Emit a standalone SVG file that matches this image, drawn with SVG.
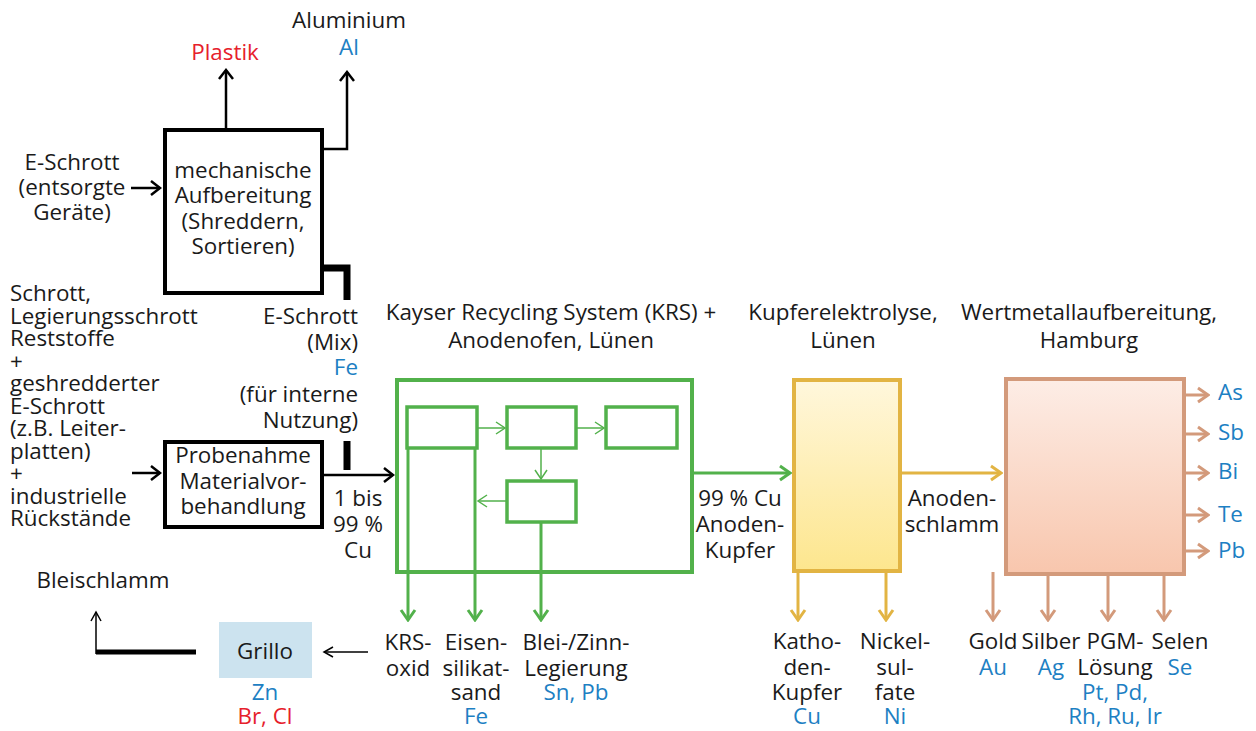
<svg xmlns="http://www.w3.org/2000/svg" width="1256" height="731" viewBox="0 0 1256 731">
<defs>
<style>
text{font-family:"Open Sans","Liberation Sans",sans-serif;font-size:22.4px;fill:#1a1a1a}
.c{text-anchor:middle}
.r{text-anchor:end}
.b{fill:#1d80c3}
.red{fill:#e6202b}
.box{fill:#fff;stroke:#000;stroke-width:4}
.blk{fill:none;stroke:#000;stroke-width:2.5}
.thick{fill:none;stroke:#000;stroke-width:7}
.grn{fill:none;stroke:#52b14b;stroke-width:3}
.grnin{fill:#fff;stroke:#52b14b;stroke-width:3.5}
.grnt{fill:none;stroke:#52b14b;stroke-width:1.5}
.yel{fill:none;stroke:#e2b443;stroke-width:3}
.brn{fill:none;stroke:#d39a7b;stroke-width:3}
</style>
<marker id="ab" viewBox="-12 -9 14 18" refX="0" refY="0" markerWidth="14" markerHeight="18" markerUnits="userSpaceOnUse" orient="auto"><path d="M-9,-7 L0,0 L-9,7" fill="none" stroke="#000" stroke-width="2.5"/></marker>
<marker id="abt" viewBox="-12 -9 14 18" refX="0" refY="0" markerWidth="14" markerHeight="18" markerUnits="userSpaceOnUse" orient="auto"><path d="M-9,-5 L0,0 L-9,5" fill="none" stroke="#000" stroke-width="1.5"/></marker>
<marker id="ag" viewBox="-13 -9 15 18" refX="0" refY="0" markerWidth="15" markerHeight="18" markerUnits="userSpaceOnUse" orient="auto"><path d="M-10,-7 L0,0 L-10,7" fill="none" stroke="#52b14b" stroke-width="3"/></marker>
<marker id="agt" viewBox="-12 -9 14 18" refX="0" refY="0" markerWidth="14" markerHeight="18" markerUnits="userSpaceOnUse" orient="auto"><path d="M-9,-6 L0,0 L-9,6" fill="none" stroke="#52b14b" stroke-width="1.5"/></marker>
<marker id="ay" viewBox="-13 -9 15 18" refX="0" refY="0" markerWidth="15" markerHeight="18" markerUnits="userSpaceOnUse" orient="auto"><path d="M-10,-7 L0,0 L-10,7" fill="none" stroke="#e2b443" stroke-width="3"/></marker>
<marker id="abr" viewBox="-13 -9 15 18" refX="0" refY="0" markerWidth="15" markerHeight="18" markerUnits="userSpaceOnUse" orient="auto"><path d="M-10,-7 L0,0 L-10,7" fill="none" stroke="#d39a7b" stroke-width="3"/></marker>
<linearGradient id="gy" x1="0" y1="0" x2="0" y2="1"><stop offset="0" stop-color="#fff7dc"/><stop offset="1" stop-color="#fde68e"/></linearGradient>
<linearGradient id="gb" x1="0" y1="0" x2="0" y2="1"><stop offset="0" stop-color="#fdede6"/><stop offset="1" stop-color="#f8c6ad"/></linearGradient>
</defs>
<rect width="1256" height="731" fill="#fff"/>

<g id="mech">
<rect class="box" x="165" y="130" width="157" height="163"/>
<text class="c"><tspan x="243" y="178">mechanische</tspan><tspan x="243" y="203">Aufbereitung</tspan><tspan x="243" y="229">(Shreddern,</tspan><tspan x="243" y="254">Sortieren)</tspan></text>
</g>

<g id="probe">
<rect class="box" x="165" y="442" width="157" height="85"/>
<text class="c"><tspan x="243" y="463">Probenahme</tspan><tspan x="243" y="489">Materialvor-</tspan><tspan x="243" y="514">behandlung</tspan></text>
</g>

<g id="krs">
<rect x="397" y="380" width="295" height="192" fill="#fff" stroke="#52b14b" stroke-width="4"/>
<rect class="grnin" x="407" y="407" width="70" height="41"/>
<rect class="grnin" x="507" y="407" width="69" height="41"/>
<rect class="grnin" x="606" y="407" width="71" height="41"/>
<rect class="grnin" x="507" y="481" width="69" height="41"/>
</g>

<g id="kupfer">
<rect x="794" y="380" width="106" height="191" fill="url(#gy)" stroke="#e2b443" stroke-width="4"/>
</g>

<g id="wert">
<rect x="1006" y="379" width="178" height="195" fill="url(#gb)" stroke="#d39a7b" stroke-width="4"/>
</g>

<g id="grillo">
<rect x="219" y="622" width="93" height="56" fill="#cce3ef"/>
<text class="c" x="265" y="659">Grillo</text>
<text class="c"><tspan class="b" x="265" y="700">Zn</tspan><tspan class="red" x="265" y="724">Br, Cl</tspan></text>
</g>

<g id="connectors">
<path class="blk" d="M226,130 V70" marker-end="url(#ab)"/>
<path class="blk" d="M322,149 H347 V72" marker-end="url(#ab)"/>
<path class="blk" d="M131,188 H160" marker-end="url(#ab)"/>
<path class="thick" d="M322,268 H347 V300"/>
<path class="thick" d="M347,441 V470"/>
<path class="blk" d="M132,473 H160" marker-end="url(#ab)"/>
<path class="blk" d="M322,475 H393" marker-end="url(#ab)"/>
<path class="grnt" d="M477,428 H505" marker-end="url(#agt)"/>
<path class="grnt" d="M576,428 H604" marker-end="url(#agt)"/>
<path class="grnt" d="M541,448 V479" marker-end="url(#agt)"/>
<path class="grnt" d="M507,501 H478" marker-end="url(#agt)"/>
<path class="grn" d="M408,448 V620" marker-end="url(#ag)"/>
<path class="grn" d="M475,448 V620" marker-end="url(#ag)"/>
<path class="grn" d="M541,522 V620" marker-end="url(#ag)"/>
<path class="grn" d="M692,473 H790" marker-end="url(#ag)"/>
<path class="yel" d="M902,473 H1001" marker-end="url(#ay)"/>
<path class="yel" d="M798,573 V620" marker-end="url(#ay)"/>
<path class="yel" d="M886,573 V620" marker-end="url(#ay)"/>
<path class="brn" d="M1186,395 H1208" marker-end="url(#abr)"/>
<path class="brn" d="M1186,434 H1208" marker-end="url(#abr)"/>
<path class="brn" d="M1186,473 H1208" marker-end="url(#abr)"/>
<path class="brn" d="M1186,515 H1208" marker-end="url(#abr)"/>
<path class="brn" d="M1186,551 H1208" marker-end="url(#abr)"/>
<path class="brn" d="M993,572 V620" marker-end="url(#abr)"/>
<path class="brn" d="M1048,576 V620" marker-end="url(#abr)"/>
<path class="brn" d="M1108,576 V620" marker-end="url(#abr)"/>
<path class="brn" d="M1164,576 V620" marker-end="url(#abr)"/>
<path d="M368,652 H324" fill="none" stroke="#000" stroke-width="1.5" marker-end="url(#abt)"/>
<path d="M196,652 H96" fill="none" stroke="#000" stroke-width="5"/>
<path d="M96,654 V612" fill="none" stroke="#000" stroke-width="1.5" marker-end="url(#abt)"/>
</g>

<g id="labels">
<text class="c"><tspan x="349" y="28">Aluminium</tspan><tspan class="b" x="349" y="55">Al</tspan></text>
<text class="c red" x="225" y="60">Plastik</text>
<text class="c"><tspan x="72" y="170">E-Schrott</tspan><tspan x="72" y="195">(entsorgte</tspan><tspan x="72" y="220">Geräte)</tspan></text>

<text><tspan x="10" y="301">Schrott,</tspan><tspan x="10" y="323.6">Legierungsschrott</tspan><tspan x="10" y="346">Reststoffe</tspan><tspan x="10" y="368.5">+</tspan><tspan x="10" y="391">geshredderter</tspan><tspan x="10" y="413.6">E-Schrott</tspan><tspan x="10" y="436">(z.B. Leiter-</tspan><tspan x="10" y="458.5">platten)</tspan><tspan x="10" y="481">+</tspan><tspan x="10" y="504">industrielle</tspan><tspan x="10" y="526">Rückstände</tspan></text>

<text class="r"><tspan x="358" y="324">E-Schrott</tspan><tspan x="358" y="350">(Mix)</tspan><tspan class="b" x="358" y="375">Fe</tspan><tspan x="358" y="402">(für interne</tspan><tspan x="358" y="428">Nutzung)</tspan></text>

<text class="c"><tspan x="358" y="506">1 bis</tspan><tspan x="358" y="532">99 %</tspan><tspan x="358" y="558">Cu</tspan></text>

<text class="c"><tspan x="551" y="320">Kayser Recycling System (KRS) +</tspan><tspan x="551" y="348">Anodenofen, Lünen</tspan></text>
<text class="c"><tspan x="843" y="320">Kupferelektrolyse,</tspan><tspan x="843" y="348">Lünen</tspan></text>
<text class="c"><tspan x="1089" y="320">Wertmetallaufbereitung,</tspan><tspan x="1089" y="348">Hamburg</tspan></text>

<text class="c"><tspan x="740" y="506">99 % Cu</tspan><tspan x="740" y="532">Anoden-</tspan><tspan x="740" y="558">Kupfer</tspan></text>
<text class="c"><tspan x="952" y="506">Anoden-</tspan><tspan x="952" y="532">schlamm</tspan></text>

<text class="b" x="1218" y="400">As</text>
<text class="b" x="1218" y="440">Sb</text>
<text class="b" x="1218" y="479">Bi</text>
<text class="b" x="1218" y="522">Te</text>
<text class="b" x="1218" y="558">Pb</text>

<text class="c" x="103" y="588">Bleischlamm</text>

<text class="c"><tspan x="408" y="650">KRS-</tspan><tspan x="408" y="676">oxid</tspan></text>
<text class="c"><tspan x="476" y="650">Eisen-</tspan><tspan x="476" y="676">silikat-</tspan><tspan x="476" y="700">sand</tspan><tspan class="b" x="476" y="724">Fe</tspan></text>
<text class="c"><tspan x="576" y="650">Blei-/Zinn-</tspan><tspan x="576" y="676">Legierung</tspan><tspan class="b" x="576" y="700">Sn, Pb</tspan></text>

<text class="c"><tspan x="807" y="649">Katho-</tspan><tspan x="807" y="675">den-</tspan><tspan x="807" y="700">Kupfer</tspan><tspan class="b" x="807" y="724">Cu</tspan></text>
<text class="c"><tspan x="895" y="649">Nickel-</tspan><tspan x="895" y="675">sul-</tspan><tspan x="895" y="700">fate</tspan><tspan class="b" x="895" y="724">Ni</tspan></text>

<text class="c"><tspan x="993" y="649">Gold</tspan><tspan class="b" x="993" y="675">Au</tspan></text>
<text class="c"><tspan x="1051" y="649">Silber</tspan><tspan class="b" x="1051" y="675">Ag</tspan></text>
<text class="c"><tspan x="1115" y="649">PGM-</tspan><tspan x="1115" y="675">Lösung</tspan><tspan class="b" x="1115" y="700">Pt, Pd,</tspan><tspan class="b" x="1115" y="724">Rh, Ru, Ir</tspan></text>
<text class="c"><tspan x="1180" y="649">Selen</tspan><tspan class="b" x="1180" y="675">Se</tspan></text>
</g>
</svg>
